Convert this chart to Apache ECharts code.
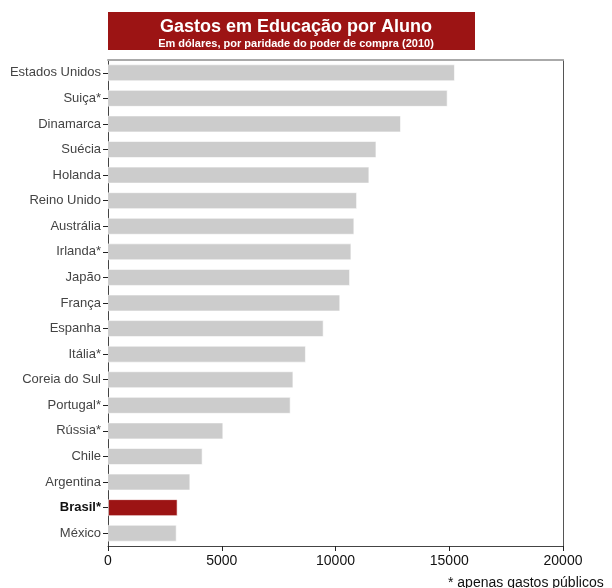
<!DOCTYPE html>
<html>
<head>
<meta charset="utf-8">
<script src="https://cdn.jsdelivr.net/npm/echarts@6/dist/echarts.min.js"></script>
<style>
  html, body { margin: 0; padding: 0; background: #fff; }
  #main { width: 612px; height: 588px; }
</style>
</head>
<body>
<div id="main"></div>
<script>
// países, de cima para baixo
const countries = [
  "Estados Unidos", "Suiça*", "Dinamarca", "Suécia", "Holanda", "Reino Unido",
  "Austrália", "Irlanda*", "Japão", "França", "Espanha", "Itália*",
  "Coreia do Sul", "Portugal*", "Rússia*", "Chile", "Argentina", "Brasil*", "México"
];
// US$ por aluno (PPP, 2010)
const spending = [
  15250, 14930, 12880, 11800, 11490, 10950,
  10830, 10700, 10640, 10210, 9480, 8700,
  8150, 8030, 5070, 4160, 3620, 3060, 3020
];
const highlight = "Brasil*";
const xTicks = [0, 5000, 10000, 15000, 20000];

const font = "'Liberation Sans', Arial, Helvetica, sans-serif";
const chart = echarts.init(document.getElementById("main"), null, { renderer: "canvas" });

const option = {
  animation: false,
  backgroundColor: "#ffffff",
  graphic: [
    {
      type: "rect",
      shape: { x: 108, y: 12, width: 367, height: 38 },
      style: { fill: "#9c1414" }
    }
  ],
  title: [
    {
      text: "Gastos em Educação por Aluno",
      left: 291, top: 13, textAlign: "center",
      textStyle: { color: "#fff", fontFamily: font, fontSize: 18, fontWeight: "bold" }
    },
    {
      text: "Em dólares, por paridade do poder de compra (2010)",
      left: 291, top: 33, textAlign: "center",
      textStyle: { color: "#fff", fontFamily: font, fontSize: 11, fontWeight: "bold" }
    },
    {
      text: "* apenas gastos públicos",
      left: 443, top: 571,
      textStyle: { color: "#111", fontFamily: font, fontSize: 14, fontWeight: "normal" }
    }
  ],
  grid: { left: 108, top: 60, width: 455, height: 486, containLabel: false },
  xAxis: [
    {
      type: "value", min: 0, max: 20000, interval: 5000,
      axisLine: { show: true, onZero: false, lineStyle: { color: "#444", width: 1 } },
      axisTick: { show: true, length: 5, lineStyle: { color: "#222" } },
      splitLine: { show: false },
      axisLabel: {
        margin: 8, color: "#111", fontFamily: font, fontSize: 14,
        formatter: v => (xTicks.indexOf(v) >= 0 ? String(v) : "")
      }
    },
    {
      type: "value", position: "top", min: 0, max: 20000,
      axisLine: { show: true, onZero: false, lineStyle: { color: "#aaa", width: 2 } },
      axisTick: { show: false }, axisLabel: { show: false }, splitLine: { show: false }
    }
  ],
  yAxis: [
    {
      type: "category", data: countries, inverse: true,
      axisLine: { show: true, onZero: false, lineStyle: { color: "#444", width: 1 } },
      axisTick: { show: true, alignWithLabel: true, length: 5, lineStyle: { color: "#222" } },
      axisLabel: {
        margin: 7, color: "#444", fontFamily: font, fontSize: 13,
        formatter: v => (v === highlight ? "{b|" + v + "}" : v),
        rich: { b: { fontWeight: "bold", color: "#111", fontFamily: font, fontSize: 13 } }
      }
    },
    {
      type: "category", data: countries, inverse: true, position: "right",
      axisLine: { show: true, onZero: false, lineStyle: { color: "#555", width: 1 } },
      axisTick: { show: false }, axisLabel: { show: false }
    }
  ],
  series: [
    {
      type: "bar",
      data: spending.map((v, i) => ({
        value: v,
        itemStyle: { color: countries[i] === highlight ? "#9c1414" : "#cccccc" }
      })),
      barWidth: 17,
      itemStyle: { borderColor: "rgba(255,255,255,0.6)", borderWidth: 1 },
      emphasis: { disabled: true }
    }
  ]
};

chart.setOption(option);
</script>
</body>
</html>
